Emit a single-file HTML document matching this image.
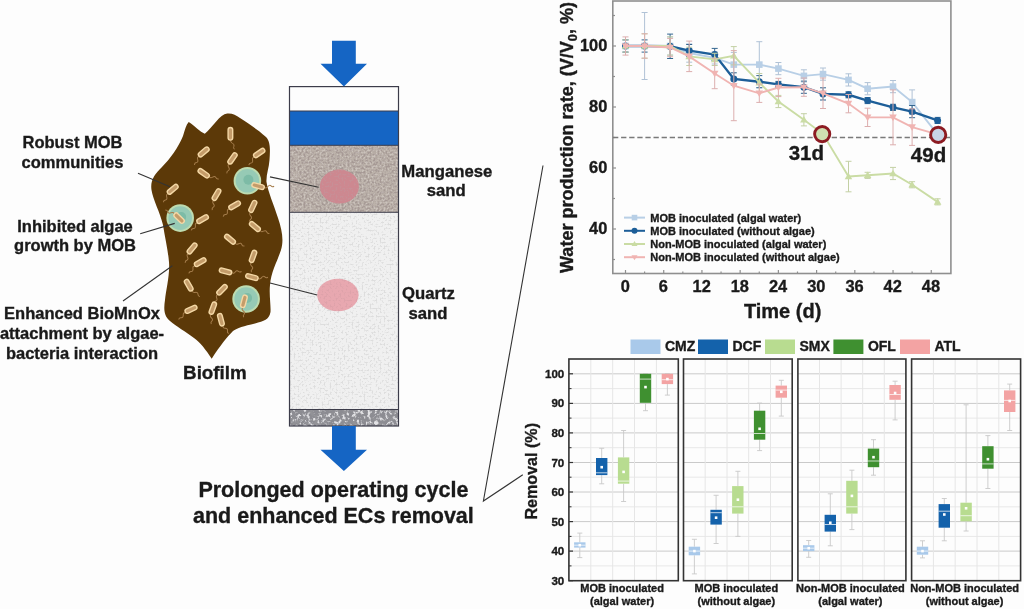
<!DOCTYPE html>
<html><head><meta charset="utf-8"><style>
html,body{margin:0;padding:0;background:#fff;width:1024px;height:609px;overflow:hidden}
svg{display:block;filter:blur(0.45px)}
</style></head><body>
<svg width="1024" height="609" viewBox="0 0 1024 609">
<rect width="1024" height="609" fill="#fdfdfd"/>
<path d="M188.7,122.1 C195,126 200,132 204.8,133.8 C212,128 220,114 227.2,113.5 C232,113 236,115 240,118 C248,123 258,130 266,137 C271,142 270,152 269.5,160 C269,168 266,175 266.5,182 C268,192 274,205 278,218 C282,230 284,240 281,250 C277,262 271,272 270,285 C269,295 271,305 270.5,312 C269,320 264,321 255,323.5 C244,326 237,328 233,331 C227,337 220,346 211.7,358.7 C206,350 200,342 194,338 C186,332 176,326 170,321 C163,315 164,307 165,300 C166,290 170,275 169,262 C168,250 165,238 163,225 C160,212 153,200 151.5,190 C150,180 155,174 162,167 C170,159 178,148 183,136 C185,130 186,125 188.7,122.1 Z" fill="#5c3908"/>
<circle cx="247.4" cy="180.8" r="13.8" fill="#bedcb0"/>
<circle cx="247.4" cy="180.8" r="11.8" fill="#96cab5"/>
<circle cx="248.4" cy="179.8" r="5" fill="#7dbba6"/>
<circle cx="180.2" cy="218.1" r="13.8" fill="#bedcb0"/>
<circle cx="180.2" cy="218.1" r="11.8" fill="#96cab5"/>
<circle cx="181.2" cy="217.1" r="5" fill="#7dbba6"/>
<circle cx="246.1" cy="299" r="13.8" fill="#bedcb0"/>
<circle cx="246.1" cy="299" r="11.8" fill="#96cab5"/>
<circle cx="247.1" cy="298" r="5" fill="#7dbba6"/>
<g transform="translate(230.4,133.8) rotate(270)"><path d="M-6.5,0.5 q-2,-1 -3,1.5 q-1,2.5 -3,1.5 q-1.5,-1 -3,0.5" fill="none" stroke="#a57d4c" stroke-width="1"/><rect x="-6.3" y="-2.3" width="12.6" height="4.6" rx="2.3" fill="#c49c6a" stroke="#f4d8a6" stroke-width="1.4"/></g>
<g transform="translate(203.7,151.9) rotate(320)"><path d="M-6.5,0.5 q-2,-1 -3,1.5 q-1,2.5 -3,1.5 q-1.5,-1 -3,0.5" fill="none" stroke="#a57d4c" stroke-width="1"/><rect x="-6.3" y="-2.3" width="12.6" height="4.6" rx="2.3" fill="#c49c6a" stroke="#f4d8a6" stroke-width="1.4"/></g>
<g transform="translate(232.5,158.4) rotate(305)"><path d="M-6.5,0.5 q-2,-1 -3,1.5 q-1,2.5 -3,1.5 q-1.5,-1 -3,0.5" fill="none" stroke="#a57d4c" stroke-width="1"/><rect x="-6.3" y="-2.3" width="12.6" height="4.6" rx="2.3" fill="#c49c6a" stroke="#f4d8a6" stroke-width="1.4"/></g>
<g transform="translate(259.2,153) rotate(325)"><path d="M-6.5,0.5 q-2,-1 -3,1.5 q-1,2.5 -3,1.5 q-1.5,-1 -3,0.5" fill="none" stroke="#a57d4c" stroke-width="1"/><rect x="-6.3" y="-2.3" width="12.6" height="4.6" rx="2.3" fill="#c49c6a" stroke="#f4d8a6" stroke-width="1.4"/></g>
<g transform="translate(203.7,173.3) rotate(215)"><path d="M-6.5,0.5 q-2,-1 -3,1.5 q-1,2.5 -3,1.5 q-1.5,-1 -3,0.5" fill="none" stroke="#a57d4c" stroke-width="1"/><rect x="-6.3" y="-2.3" width="12.6" height="4.6" rx="2.3" fill="#c49c6a" stroke="#f4d8a6" stroke-width="1.4"/></g>
<g transform="translate(172.7,189.3) rotate(320)"><path d="M-6.5,0.5 q-2,-1 -3,1.5 q-1,2.5 -3,1.5 q-1.5,-1 -3,0.5" fill="none" stroke="#a57d4c" stroke-width="1"/><rect x="-6.3" y="-2.3" width="12.6" height="4.6" rx="2.3" fill="#c49c6a" stroke="#f4d8a6" stroke-width="1.4"/></g>
<g transform="translate(216.5,194.6) rotate(300)"><path d="M-6.5,0.5 q-2,-1 -3,1.5 q-1,2.5 -3,1.5 q-1.5,-1 -3,0.5" fill="none" stroke="#a57d4c" stroke-width="1"/><rect x="-6.3" y="-2.3" width="12.6" height="4.6" rx="2.3" fill="#c49c6a" stroke="#f4d8a6" stroke-width="1.4"/></g>
<g transform="translate(234.6,205.3) rotate(330)"><path d="M-6.5,0.5 q-2,-1 -3,1.5 q-1,2.5 -3,1.5 q-1.5,-1 -3,0.5" fill="none" stroke="#a57d4c" stroke-width="1"/><rect x="-6.3" y="-2.3" width="12.6" height="4.6" rx="2.3" fill="#c49c6a" stroke="#f4d8a6" stroke-width="1.4"/></g>
<g transform="translate(252.8,206.4) rotate(295)"><path d="M-6.5,0.5 q-2,-1 -3,1.5 q-1,2.5 -3,1.5 q-1.5,-1 -3,0.5" fill="none" stroke="#a57d4c" stroke-width="1"/><rect x="-6.3" y="-2.3" width="12.6" height="4.6" rx="2.3" fill="#c49c6a" stroke="#f4d8a6" stroke-width="1.4"/></g>
<g transform="translate(202.6,219.2) rotate(330)"><path d="M-6.5,0.5 q-2,-1 -3,1.5 q-1,2.5 -3,1.5 q-1.5,-1 -3,0.5" fill="none" stroke="#a57d4c" stroke-width="1"/><rect x="-6.3" y="-2.3" width="12.6" height="4.6" rx="2.3" fill="#c49c6a" stroke="#f4d8a6" stroke-width="1.4"/></g>
<g transform="translate(258.1,186.1) rotate(195)"><path d="M-6.5,0.5 q-2,-1 -3,1.5 q-1,2.5 -3,1.5 q-1.5,-1 -3,0.5" fill="none" stroke="#a57d4c" stroke-width="1"/><rect x="-6.3" y="-2.3" width="12.6" height="4.6" rx="2.3" fill="#c49c6a" stroke="#f4d8a6" stroke-width="1.4"/></g>
<g transform="translate(179.1,218.1) rotate(405)"><path d="M-6.5,0.5 q-2,-1 -3,1.5 q-1,2.5 -3,1.5 q-1.5,-1 -3,0.5" fill="none" stroke="#a57d4c" stroke-width="1"/><rect x="-6.3" y="-2.3" width="12.6" height="4.6" rx="2.3" fill="#c49c6a" stroke="#f4d8a6" stroke-width="1.4"/></g>
<g transform="translate(254.9,226.6) rotate(220)"><path d="M-6.5,0.5 q-2,-1 -3,1.5 q-1,2.5 -3,1.5 q-1.5,-1 -3,0.5" fill="none" stroke="#a57d4c" stroke-width="1"/><rect x="-6.3" y="-2.3" width="12.6" height="4.6" rx="2.3" fill="#c49c6a" stroke="#f4d8a6" stroke-width="1.4"/></g>
<g transform="translate(230,239.2) rotate(220)"><path d="M-6.5,0.5 q-2,-1 -3,1.5 q-1,2.5 -3,1.5 q-1.5,-1 -3,0.5" fill="none" stroke="#a57d4c" stroke-width="1"/><rect x="-6.3" y="-2.3" width="12.6" height="4.6" rx="2.3" fill="#c49c6a" stroke="#f4d8a6" stroke-width="1.4"/></g>
<g transform="translate(192.1,248.4) rotate(310)"><path d="M-6.5,0.5 q-2,-1 -3,1.5 q-1,2.5 -3,1.5 q-1.5,-1 -3,0.5" fill="none" stroke="#a57d4c" stroke-width="1"/><rect x="-6.3" y="-2.3" width="12.6" height="4.6" rx="2.3" fill="#c49c6a" stroke="#f4d8a6" stroke-width="1.4"/></g>
<g transform="translate(200.2,262.2) rotate(330)"><path d="M-6.5,0.5 q-2,-1 -3,1.5 q-1,2.5 -3,1.5 q-1.5,-1 -3,0.5" fill="none" stroke="#a57d4c" stroke-width="1"/><rect x="-6.3" y="-2.3" width="12.6" height="4.6" rx="2.3" fill="#c49c6a" stroke="#f4d8a6" stroke-width="1.4"/></g>
<g transform="translate(253,256.4) rotate(290)"><path d="M-6.5,0.5 q-2,-1 -3,1.5 q-1,2.5 -3,1.5 q-1.5,-1 -3,0.5" fill="none" stroke="#a57d4c" stroke-width="1"/><rect x="-6.3" y="-2.3" width="12.6" height="4.6" rx="2.3" fill="#c49c6a" stroke="#f4d8a6" stroke-width="1.4"/></g>
<g transform="translate(225.5,271.4) rotate(195)"><path d="M-6.5,0.5 q-2,-1 -3,1.5 q-1,2.5 -3,1.5 q-1.5,-1 -3,0.5" fill="none" stroke="#a57d4c" stroke-width="1"/><rect x="-6.3" y="-2.3" width="12.6" height="4.6" rx="2.3" fill="#c49c6a" stroke="#f4d8a6" stroke-width="1.4"/></g>
<g transform="translate(251.9,277.1) rotate(195)"><path d="M-6.5,0.5 q-2,-1 -3,1.5 q-1,2.5 -3,1.5 q-1.5,-1 -3,0.5" fill="none" stroke="#a57d4c" stroke-width="1"/><rect x="-6.3" y="-2.3" width="12.6" height="4.6" rx="2.3" fill="#c49c6a" stroke="#f4d8a6" stroke-width="1.4"/></g>
<g transform="translate(188.7,285.2) rotate(240)"><path d="M-6.5,0.5 q-2,-1 -3,1.5 q-1,2.5 -3,1.5 q-1.5,-1 -3,0.5" fill="none" stroke="#a57d4c" stroke-width="1"/><rect x="-6.3" y="-2.3" width="12.6" height="4.6" rx="2.3" fill="#c49c6a" stroke="#f4d8a6" stroke-width="1.4"/></g>
<g transform="translate(222,289.8) rotate(315)"><path d="M-6.5,0.5 q-2,-1 -3,1.5 q-1,2.5 -3,1.5 q-1.5,-1 -3,0.5" fill="none" stroke="#a57d4c" stroke-width="1"/><rect x="-6.3" y="-2.3" width="12.6" height="4.6" rx="2.3" fill="#c49c6a" stroke="#f4d8a6" stroke-width="1.4"/></g>
<g transform="translate(191,309.3) rotate(335)"><path d="M-6.5,0.5 q-2,-1 -3,1.5 q-1,2.5 -3,1.5 q-1.5,-1 -3,0.5" fill="none" stroke="#a57d4c" stroke-width="1"/><rect x="-6.3" y="-2.3" width="12.6" height="4.6" rx="2.3" fill="#c49c6a" stroke="#f4d8a6" stroke-width="1.4"/></g>
<g transform="translate(212.8,308.2) rotate(290)"><path d="M-6.5,0.5 q-2,-1 -3,1.5 q-1,2.5 -3,1.5 q-1.5,-1 -3,0.5" fill="none" stroke="#a57d4c" stroke-width="1"/><rect x="-6.3" y="-2.3" width="12.6" height="4.6" rx="2.3" fill="#c49c6a" stroke="#f4d8a6" stroke-width="1.4"/></g>
<g transform="translate(220.9,319.7) rotate(255)"><path d="M-6.5,0.5 q-2,-1 -3,1.5 q-1,2.5 -3,1.5 q-1.5,-1 -3,0.5" fill="none" stroke="#a57d4c" stroke-width="1"/><rect x="-6.3" y="-2.3" width="12.6" height="4.6" rx="2.3" fill="#c49c6a" stroke="#f4d8a6" stroke-width="1.4"/></g>
<g transform="translate(243.9,301.3) rotate(285)"><path d="M-6.5,0.5 q-2,-1 -3,1.5 q-1,2.5 -3,1.5 q-1.5,-1 -3,0.5" fill="none" stroke="#a57d4c" stroke-width="1"/><rect x="-6.3" y="-2.3" width="12.6" height="4.6" rx="2.3" fill="#c49c6a" stroke="#f4d8a6" stroke-width="1.4"/></g>
<text x="72.5" y="148" font-family="Liberation Sans, sans-serif" font-size="16.5" font-weight="bold" fill="#1a1a1a" stroke="#1a1a1a" stroke-width="0.35" text-anchor="middle" >Robust MOB</text>
<text x="72.5" y="167.6" font-family="Liberation Sans, sans-serif" font-size="16.5" font-weight="bold" fill="#1a1a1a" stroke="#1a1a1a" stroke-width="0.35" text-anchor="middle" >communities</text>
<text x="75" y="231.5" font-family="Liberation Sans, sans-serif" font-size="16.5" font-weight="bold" fill="#1a1a1a" stroke="#1a1a1a" stroke-width="0.35" text-anchor="middle" >Inhibited algae</text>
<text x="75" y="251" font-family="Liberation Sans, sans-serif" font-size="16.5" font-weight="bold" fill="#1a1a1a" stroke="#1a1a1a" stroke-width="0.35" text-anchor="middle" >growth by MOB</text>
<text x="82" y="319.3" font-family="Liberation Sans, sans-serif" font-size="16.5" font-weight="bold" fill="#1a1a1a" stroke="#1a1a1a" stroke-width="0.35" text-anchor="middle" >Enhanced BioMnOx</text>
<text x="82" y="339.3" font-family="Liberation Sans, sans-serif" font-size="16.5" font-weight="bold" fill="#1a1a1a" stroke="#1a1a1a" stroke-width="0.35" text-anchor="middle" >attachment by algae-</text>
<text x="82" y="358.9" font-family="Liberation Sans, sans-serif" font-size="16.5" font-weight="bold" fill="#1a1a1a" stroke="#1a1a1a" stroke-width="0.35" text-anchor="middle" >bacteria interaction</text>
<text x="214.9" y="379" font-family="Liberation Sans, sans-serif" font-size="18.8" font-weight="bold" fill="#1a1a1a" stroke="#1a1a1a" stroke-width="0.35" text-anchor="middle" >Biofilm</text>
<filter id="spk1" x="0" y="0" width="1" height="1"><feTurbulence type="fractalNoise" baseFrequency="0.5" numOctaves="3" seed="5"/><feColorMatrix type="matrix" values="0 0 0 0 0.38  0 0 0 0 0.32  0 0 0 0 0.30  6 0 0 0 -2.7"/></filter>
<filter id="spk2" x="0" y="0" width="1" height="1"><feTurbulence type="fractalNoise" baseFrequency="0.5" numOctaves="3" seed="9"/><feColorMatrix type="matrix" values="0 0 0 0 0.95  0 0 0 0 0.92  0 0 0 0 0.9  6 0 0 0 -3.0"/></filter>
<filter id="spk3" x="0" y="0" width="1" height="1"><feTurbulence type="fractalNoise" baseFrequency="0.5" numOctaves="3" seed="11"/><feColorMatrix type="matrix" values="0 0 0 0 0.6  0 0 0 0 0.6  0 0 0 0 0.6  5 0 0 0 -2.5"/></filter>
<rect x="289.5" y="145.3" width="109" height="67" fill="#bcb2aa"/>
<rect x="289.5" y="145.3" width="109" height="67" fill="#000" filter="url(#spk1)"/>
<rect x="289.5" y="145.3" width="109" height="67" fill="#000" filter="url(#spk2)" opacity="0.25"/>
<rect x="289.5" y="212.3" width="109" height="197.2" fill="#f0f0f0"/>
<rect x="289.5" y="212.3" width="109" height="197.2" fill="#000" filter="url(#spk3)" opacity="0.5"/>
<rect x="289.5" y="409.5" width="109" height="16.5" fill="#8c8c92"/>
<filter id="spk5" x="0" y="0" width="1" height="1"><feTurbulence type="fractalNoise" baseFrequency="0.28" numOctaves="3" seed="21"/><feColorMatrix type="matrix" values="0 0 0 0 0.3  0 0 0 0 0.3  0 0 0 0 0.32  5 0 0 0 -2.4"/></filter>
<filter id="spk6" x="0" y="0" width="1" height="1"><feTurbulence type="fractalNoise" baseFrequency="0.28" numOctaves="3" seed="33"/><feColorMatrix type="matrix" values="0 0 0 0 0.93  0 0 0 0 0.93  0 0 0 0 0.95  5 0 0 0 -2.5"/></filter>
<rect x="289.5" y="409.5" width="109" height="16.5" fill="#000" filter="url(#spk5)" opacity="0.8"/>
<rect x="289.5" y="409.5" width="109" height="16.5" fill="#000" filter="url(#spk6)" opacity="0.8"/>
<rect x="289.5" y="111" width="109" height="34.3" fill="#1565c4"/>
<filter id="spk4" x="0" y="0" width="1" height="1"><feTurbulence type="fractalNoise" baseFrequency="0.5" numOctaves="3" seed="3"/><feColorMatrix type="matrix" values="0 0 0 0 0.55  0 0 0 0 0.3  0 0 0 0 0.33  6 0 0 0 -3.0"/><feComposite in2="SourceAlpha" operator="in"/></filter>
<ellipse cx="339.4" cy="186.6" rx="19.5" ry="17" fill="#cd8890"/>
<ellipse cx="339.4" cy="186.6" rx="19.5" ry="17" fill="#000" filter="url(#spk4)" opacity="0.6"/>
<ellipse cx="337.9" cy="295" rx="20.7" ry="16.2" fill="#e8a8b0"/>
<ellipse cx="337.9" cy="295" rx="20.7" ry="16.2" fill="#000" filter="url(#spk4)" opacity="0.25"/>
<line x1="289.5" y1="111" x2="398.5" y2="111" stroke="#3c3c4a" stroke-width="1"/>
<line x1="289.5" y1="145.3" x2="398.5" y2="145.3" stroke="#3c3c4a" stroke-width="1"/>
<line x1="289.5" y1="212.3" x2="398.5" y2="212.3" stroke="#3c3c4a" stroke-width="1"/>
<line x1="289.5" y1="409.5" x2="398.5" y2="409.5" stroke="#3c3c4a" stroke-width="1"/>
<rect x="289.5" y="86.6" width="109" height="339.4" fill="none" stroke="#3c3c4a" stroke-width="1.2"/>
<line x1="138" y1="173.3" x2="170" y2="186.7" stroke="#333" stroke-width="1.1"/>
<line x1="140.2" y1="233.8" x2="174.7" y2="223.4" stroke="#333" stroke-width="1.1"/>
<line x1="123" y1="301" x2="172.4" y2="265.7" stroke="#333" stroke-width="1.1"/>
<line x1="270" y1="176.9" x2="318.7" y2="187.2" stroke="#333" stroke-width="1.1"/>
<line x1="270" y1="283" x2="317.2" y2="295" stroke="#333" stroke-width="1.1"/>
<path d="M332,40.7 H355.8 V63.7 H367 L343.9,86.6 L320.5,63.7 H332 Z" fill="#1565c4"/>
<path d="M332,426 H355.8 V449.8 H367 L343.9,471 L320.5,449.8 H332 Z" fill="#1565c4"/>
<text x="446.8" y="176.6" font-family="Liberation Sans, sans-serif" font-size="16.7" font-weight="bold" fill="#1a1a1a" stroke="#1a1a1a" stroke-width="0.35" text-anchor="middle" >Manganese</text>
<text x="446.3" y="196.4" font-family="Liberation Sans, sans-serif" font-size="16.7" font-weight="bold" fill="#1a1a1a" stroke="#1a1a1a" stroke-width="0.35" text-anchor="middle" >sand</text>
<text x="428.4" y="298.7" font-family="Liberation Sans, sans-serif" font-size="16.7" font-weight="bold" fill="#1a1a1a" stroke="#1a1a1a" stroke-width="0.35" text-anchor="middle" >Quartz</text>
<text x="428" y="318.8" font-family="Liberation Sans, sans-serif" font-size="16.7" font-weight="bold" fill="#1a1a1a" stroke="#1a1a1a" stroke-width="0.35" text-anchor="middle" >sand</text>
<text x="333.4" y="497.4" font-family="Liberation Sans, sans-serif" font-size="21.5" font-weight="bold" fill="#1a1a1a" stroke="#1a1a1a" stroke-width="0.35" text-anchor="middle" >Prolonged operating cycle</text>
<text x="333.4" y="522.5" font-family="Liberation Sans, sans-serif" font-size="21.5" font-weight="bold" fill="#1a1a1a" stroke="#1a1a1a" stroke-width="0.35" text-anchor="middle" >and enhanced ECs removal</text>
<polyline points="543,165.5 483.4,501 522.8,474.8" fill="none" stroke="#333" stroke-width="1.1"/>
<rect x="612.8" y="1" width="338.1" height="272.5" fill="none" stroke="#8f8f8f" stroke-width="1.6"/>
<line x1="612.8" y1="259.5" x2="615" y2="259.5" stroke="#8f8f8f" stroke-width="1.2"/>
<line x1="612.8" y1="229.0" x2="616" y2="229.0" stroke="#8f8f8f" stroke-width="1.2"/>
<line x1="612.8" y1="198.5" x2="615" y2="198.5" stroke="#8f8f8f" stroke-width="1.2"/>
<line x1="612.8" y1="168.0" x2="616" y2="168.0" stroke="#8f8f8f" stroke-width="1.2"/>
<line x1="612.8" y1="137.5" x2="615" y2="137.5" stroke="#8f8f8f" stroke-width="1.2"/>
<line x1="612.8" y1="107.0" x2="616" y2="107.0" stroke="#8f8f8f" stroke-width="1.2"/>
<line x1="612.8" y1="76.5" x2="615" y2="76.5" stroke="#8f8f8f" stroke-width="1.2"/>
<line x1="612.8" y1="46.0" x2="616" y2="46.0" stroke="#8f8f8f" stroke-width="1.2"/>
<line x1="612.8" y1="15.5" x2="615" y2="15.5" stroke="#8f8f8f" stroke-width="1.2"/>
<line x1="625.5" y1="273.5" x2="625.5" y2="270" stroke="#8f8f8f" stroke-width="1.2"/>
<line x1="644.61" y1="273.5" x2="644.61" y2="271.5" stroke="#8f8f8f" stroke-width="1.2"/>
<line x1="663.72" y1="273.5" x2="663.72" y2="270" stroke="#8f8f8f" stroke-width="1.2"/>
<line x1="682.83" y1="273.5" x2="682.83" y2="271.5" stroke="#8f8f8f" stroke-width="1.2"/>
<line x1="701.94" y1="273.5" x2="701.94" y2="270" stroke="#8f8f8f" stroke-width="1.2"/>
<line x1="721.05" y1="273.5" x2="721.05" y2="271.5" stroke="#8f8f8f" stroke-width="1.2"/>
<line x1="740.16" y1="273.5" x2="740.16" y2="270" stroke="#8f8f8f" stroke-width="1.2"/>
<line x1="759.27" y1="273.5" x2="759.27" y2="271.5" stroke="#8f8f8f" stroke-width="1.2"/>
<line x1="778.38" y1="273.5" x2="778.38" y2="270" stroke="#8f8f8f" stroke-width="1.2"/>
<line x1="797.49" y1="273.5" x2="797.49" y2="271.5" stroke="#8f8f8f" stroke-width="1.2"/>
<line x1="816.6" y1="273.5" x2="816.6" y2="270" stroke="#8f8f8f" stroke-width="1.2"/>
<line x1="835.71" y1="273.5" x2="835.71" y2="271.5" stroke="#8f8f8f" stroke-width="1.2"/>
<line x1="854.8199999999999" y1="273.5" x2="854.8199999999999" y2="270" stroke="#8f8f8f" stroke-width="1.2"/>
<line x1="873.9300000000001" y1="273.5" x2="873.9300000000001" y2="271.5" stroke="#8f8f8f" stroke-width="1.2"/>
<line x1="893.04" y1="273.5" x2="893.04" y2="270" stroke="#8f8f8f" stroke-width="1.2"/>
<line x1="912.15" y1="273.5" x2="912.15" y2="271.5" stroke="#8f8f8f" stroke-width="1.2"/>
<line x1="931.26" y1="273.5" x2="931.26" y2="270" stroke="#8f8f8f" stroke-width="1.2"/>
<text x="607.3" y="234.0" font-family="Liberation Sans, sans-serif" font-size="16.4" font-weight="bold" fill="#1a1a1a" stroke="#1a1a1a" stroke-width="0.35" text-anchor="end" >40</text>
<text x="607.3" y="173.0" font-family="Liberation Sans, sans-serif" font-size="16.4" font-weight="bold" fill="#1a1a1a" stroke="#1a1a1a" stroke-width="0.35" text-anchor="end" >60</text>
<text x="607.3" y="112.0" font-family="Liberation Sans, sans-serif" font-size="16.4" font-weight="bold" fill="#1a1a1a" stroke="#1a1a1a" stroke-width="0.35" text-anchor="end" >80</text>
<text x="607.3" y="51.0" font-family="Liberation Sans, sans-serif" font-size="16.4" font-weight="bold" fill="#1a1a1a" stroke="#1a1a1a" stroke-width="0.35" text-anchor="end" >100</text>
<text x="625.2" y="292.1" font-family="Liberation Sans, sans-serif" font-size="16.4" font-weight="bold" fill="#1a1a1a" stroke="#1a1a1a" stroke-width="0.35" text-anchor="middle" >0</text>
<text x="663.4200000000001" y="292.1" font-family="Liberation Sans, sans-serif" font-size="16.4" font-weight="bold" fill="#1a1a1a" stroke="#1a1a1a" stroke-width="0.35" text-anchor="middle" >6</text>
<text x="701.6400000000001" y="292.1" font-family="Liberation Sans, sans-serif" font-size="16.4" font-weight="bold" fill="#1a1a1a" stroke="#1a1a1a" stroke-width="0.35" text-anchor="middle" >12</text>
<text x="739.86" y="292.1" font-family="Liberation Sans, sans-serif" font-size="16.4" font-weight="bold" fill="#1a1a1a" stroke="#1a1a1a" stroke-width="0.35" text-anchor="middle" >18</text>
<text x="778.08" y="292.1" font-family="Liberation Sans, sans-serif" font-size="16.4" font-weight="bold" fill="#1a1a1a" stroke="#1a1a1a" stroke-width="0.35" text-anchor="middle" >24</text>
<text x="816.3000000000001" y="292.1" font-family="Liberation Sans, sans-serif" font-size="16.4" font-weight="bold" fill="#1a1a1a" stroke="#1a1a1a" stroke-width="0.35" text-anchor="middle" >30</text>
<text x="854.52" y="292.1" font-family="Liberation Sans, sans-serif" font-size="16.4" font-weight="bold" fill="#1a1a1a" stroke="#1a1a1a" stroke-width="0.35" text-anchor="middle" >36</text>
<text x="892.74" y="292.1" font-family="Liberation Sans, sans-serif" font-size="16.4" font-weight="bold" fill="#1a1a1a" stroke="#1a1a1a" stroke-width="0.35" text-anchor="middle" >42</text>
<text x="930.96" y="292.1" font-family="Liberation Sans, sans-serif" font-size="16.4" font-weight="bold" fill="#1a1a1a" stroke="#1a1a1a" stroke-width="0.35" text-anchor="middle" >48</text>
<text x="782.6" y="317.5" font-family="Liberation Sans, sans-serif" font-size="20" font-weight="bold" fill="#1a1a1a" stroke="#1a1a1a" stroke-width="0.35" text-anchor="middle" >Time (d)</text>
<text transform="translate(572.6,273) rotate(-90)" font-family="Liberation Sans, sans-serif" font-size="17.5" font-weight="bold" fill="#1a1a1a" stroke="#1a1a1a" stroke-width="0.35" textLength="271" lengthAdjust="spacingAndGlyphs">Water production rate, (V/V<tspan font-size="12.5" dy="4">0</tspan><tspan dy="-4">, %)</tspan></text>
<line x1="613" y1="137.5" x2="950" y2="137.5" stroke="#7a7a7a" stroke-width="1.3" stroke-dasharray="5.3,2.8"/>
<path d="M625.5,39.9 V52.1 M622.5,39.9 h6 M622.5,52.1 h6" stroke="#b0c2d6" stroke-width="1" fill="none"/>
<path d="M644.6,12.5 V79.5 M641.6,12.5 h6 M641.6,79.5 h6" stroke="#b0c2d6" stroke-width="1" fill="none"/>
<path d="M670.1,36.9 V55.1 M667.1,36.9 h6 M667.1,55.1 h6" stroke="#b0c2d6" stroke-width="1" fill="none"/>
<path d="M689.2,43.9 V62.2 M686.2,43.9 h6 M686.2,62.2 h6" stroke="#b0c2d6" stroke-width="1" fill="none"/>
<path d="M714.7,51.8 V64.0 M711.7,51.8 h6 M711.7,64.0 h6" stroke="#b0c2d6" stroke-width="1" fill="none"/>
<path d="M733.8,52.4 V76.8 M730.8,52.4 h6 M730.8,76.8 h6" stroke="#b0c2d6" stroke-width="1" fill="none"/>
<path d="M759.3,41.7 V87.5 M756.3,41.7 h6 M756.3,87.5 h6" stroke="#b0c2d6" stroke-width="1" fill="none"/>
<path d="M778.4,62.5 V74.7 M775.4,62.5 h6 M775.4,74.7 h6" stroke="#b0c2d6" stroke-width="1" fill="none"/>
<path d="M803.9,69.8 V82.0 M800.9,69.8 h6 M800.9,82.0 h6" stroke="#b0c2d6" stroke-width="1" fill="none"/>
<path d="M823.0,68.0 V80.2 M820.0,68.0 h6 M820.0,80.2 h6" stroke="#b0c2d6" stroke-width="1" fill="none"/>
<path d="M848.5,73.8 V86.0 M845.5,73.8 h6 M845.5,86.0 h6" stroke="#b0c2d6" stroke-width="1" fill="none"/>
<path d="M867.6,82.6 V94.8 M864.6,82.6 h6 M864.6,94.8 h6" stroke="#b0c2d6" stroke-width="1" fill="none"/>
<path d="M893.0,80.5 V92.7 M890.0,80.5 h6 M890.0,92.7 h6" stroke="#b0c2d6" stroke-width="1" fill="none"/>
<path d="M912.1,89.9 V114.3 M909.1,89.9 h6 M909.1,114.3 h6" stroke="#b0c2d6" stroke-width="1" fill="none"/>
<path d="M937.6,131.4 V137.5 M934.6,131.4 h6 M934.6,137.5 h6" stroke="#b0c2d6" stroke-width="1" fill="none"/>
<polyline points="625.5,46.0 644.6,46.0 670.1,46.0 689.2,53.0 714.7,57.9 733.8,64.6 759.3,64.6 778.4,68.6 803.9,75.9 823.0,74.1 848.5,79.9 867.6,88.7 893.0,86.6 912.1,102.1 937.6,134.4" fill="none" stroke="#b8cfe6" stroke-width="1.9"/>
<rect x="622.2" y="42.7" width="6.6" height="6.6" fill="#b8cfe6"/>
<rect x="641.3" y="42.7" width="6.6" height="6.6" fill="#b8cfe6"/>
<rect x="666.8" y="42.7" width="6.6" height="6.6" fill="#b8cfe6"/>
<rect x="685.9" y="49.7" width="6.6" height="6.6" fill="#b8cfe6"/>
<rect x="711.4" y="54.6" width="6.6" height="6.6" fill="#b8cfe6"/>
<rect x="730.5" y="61.3" width="6.6" height="6.6" fill="#b8cfe6"/>
<rect x="756.0" y="61.3" width="6.6" height="6.6" fill="#b8cfe6"/>
<rect x="775.1" y="65.3" width="6.6" height="6.6" fill="#b8cfe6"/>
<rect x="800.6" y="72.6" width="6.6" height="6.6" fill="#b8cfe6"/>
<rect x="819.7" y="70.8" width="6.6" height="6.6" fill="#b8cfe6"/>
<rect x="845.2" y="76.6" width="6.6" height="6.6" fill="#b8cfe6"/>
<rect x="864.3" y="85.4" width="6.6" height="6.6" fill="#b8cfe6"/>
<rect x="889.7" y="83.3" width="6.6" height="6.6" fill="#b8cfe6"/>
<rect x="908.9" y="98.8" width="6.6" height="6.6" fill="#b8cfe6"/>
<rect x="934.3" y="131.1" width="6.6" height="6.6" fill="#b8cfe6"/>
<path d="M625.5,39.9 V52.1 M622.5,39.9 h6 M622.5,52.1 h6" stroke="#33658f" stroke-width="1" fill="none"/>
<path d="M644.6,39.9 V52.1 M641.6,39.9 h6 M641.6,52.1 h6" stroke="#33658f" stroke-width="1" fill="none"/>
<path d="M670.1,34.1 V58.5 M667.1,34.1 h6 M667.1,58.5 h6" stroke="#33658f" stroke-width="1" fill="none"/>
<path d="M689.2,44.5 V56.7 M686.2,44.5 h6 M686.2,56.7 h6" stroke="#33658f" stroke-width="1" fill="none"/>
<path d="M714.7,48.4 V60.6 M711.7,48.4 h6 M711.7,60.6 h6" stroke="#33658f" stroke-width="1" fill="none"/>
<path d="M733.8,72.8 V85.0 M730.8,72.8 h6 M730.8,85.0 h6" stroke="#33658f" stroke-width="1" fill="none"/>
<path d="M759.3,75.6 V87.8 M756.3,75.6 h6 M756.3,87.8 h6" stroke="#33658f" stroke-width="1" fill="none"/>
<path d="M778.4,81.4 V87.5 M775.4,81.4 h6 M775.4,87.5 h6" stroke="#33658f" stroke-width="1" fill="none"/>
<path d="M803.9,81.1 V93.3 M800.9,81.1 h6 M800.9,93.3 h6" stroke="#33658f" stroke-width="1" fill="none"/>
<path d="M823.0,87.8 V100.0 M820.0,87.8 h6 M820.0,100.0 h6" stroke="#33658f" stroke-width="1" fill="none"/>
<path d="M848.5,91.8 V97.8 M845.5,91.8 h6 M845.5,97.8 h6" stroke="#33658f" stroke-width="1" fill="none"/>
<path d="M867.6,97.5 V103.6 M864.6,97.5 h6 M864.6,103.6 h6" stroke="#33658f" stroke-width="1" fill="none"/>
<path d="M893.0,104.3 V110.4 M890.0,104.3 h6 M890.0,110.4 h6" stroke="#33658f" stroke-width="1" fill="none"/>
<path d="M912.1,105.5 V117.7 M909.1,105.5 h6 M909.1,117.7 h6" stroke="#33658f" stroke-width="1" fill="none"/>
<path d="M937.6,117.4 V123.5 M934.6,117.4 h6 M934.6,123.5 h6" stroke="#33658f" stroke-width="1" fill="none"/>
<polyline points="625.5,46.0 644.6,46.0 670.1,46.3 689.2,50.6 714.7,54.5 733.8,78.9 759.3,81.7 778.4,84.4 803.9,87.2 823.0,93.9 848.5,94.8 867.6,100.6 893.0,107.3 912.1,111.6 937.6,120.4" fill="none" stroke="#1d5e98" stroke-width="2.4"/>
<circle cx="625.5" cy="46.0" r="3.5" fill="#1d5e98"/>
<circle cx="644.6" cy="46.0" r="3.5" fill="#1d5e98"/>
<circle cx="670.1" cy="46.3" r="3.5" fill="#1d5e98"/>
<circle cx="689.2" cy="50.6" r="3.5" fill="#1d5e98"/>
<circle cx="714.7" cy="54.5" r="3.5" fill="#1d5e98"/>
<circle cx="733.8" cy="78.9" r="3.5" fill="#1d5e98"/>
<circle cx="759.3" cy="81.7" r="3.5" fill="#1d5e98"/>
<circle cx="778.4" cy="84.4" r="3.5" fill="#1d5e98"/>
<circle cx="803.9" cy="87.2" r="3.5" fill="#1d5e98"/>
<circle cx="823.0" cy="93.9" r="3.5" fill="#1d5e98"/>
<circle cx="848.5" cy="94.8" r="3.5" fill="#1d5e98"/>
<circle cx="867.6" cy="100.6" r="3.5" fill="#1d5e98"/>
<circle cx="893.0" cy="107.3" r="3.5" fill="#1d5e98"/>
<circle cx="912.1" cy="111.6" r="3.5" fill="#1d5e98"/>
<circle cx="937.6" cy="120.4" r="3.5" fill="#1d5e98"/>
<path d="M625.5,39.9 V52.1 M622.5,39.9 h6 M622.5,52.1 h6" stroke="#c3d0a4" stroke-width="1" fill="none"/>
<path d="M644.6,33.8 V58.2 M641.6,33.8 h6 M641.6,58.2 h6" stroke="#c3d0a4" stroke-width="1" fill="none"/>
<path d="M670.1,36.9 V55.1 M667.1,36.9 h6 M667.1,55.1 h6" stroke="#c3d0a4" stroke-width="1" fill="none"/>
<path d="M689.2,47.2 V65.5 M686.2,47.2 h6 M686.2,65.5 h6" stroke="#c3d0a4" stroke-width="1" fill="none"/>
<path d="M714.7,53.3 V65.5 M711.7,53.3 h6 M711.7,65.5 h6" stroke="#c3d0a4" stroke-width="1" fill="none"/>
<path d="M733.8,46.6 V64.9 M730.8,46.6 h6 M730.8,64.9 h6" stroke="#c3d0a4" stroke-width="1" fill="none"/>
<path d="M759.3,73.5 V91.8 M756.3,73.5 h6 M756.3,91.8 h6" stroke="#c3d0a4" stroke-width="1" fill="none"/>
<path d="M778.4,95.4 V107.6 M775.4,95.4 h6 M775.4,107.6 h6" stroke="#c3d0a4" stroke-width="1" fill="none"/>
<path d="M803.9,113.7 V125.9 M800.9,113.7 h6 M800.9,125.9 h6" stroke="#c3d0a4" stroke-width="1" fill="none"/>
<path d="M823.0,131.1 V137.2 M820.0,131.1 h6 M820.0,137.2 h6" stroke="#c3d0a4" stroke-width="1" fill="none"/>
<path d="M848.5,161.3 V191.8 M845.5,161.3 h6 M845.5,191.8 h6" stroke="#c3d0a4" stroke-width="1" fill="none"/>
<path d="M867.6,172.3 V178.4 M864.6,172.3 h6 M864.6,178.4 h6" stroke="#c3d0a4" stroke-width="1" fill="none"/>
<path d="M893.0,167.4 V179.6 M890.0,167.4 h6 M890.0,179.6 h6" stroke="#c3d0a4" stroke-width="1" fill="none"/>
<path d="M912.1,181.7 V187.8 M909.1,181.7 h6 M909.1,187.8 h6" stroke="#c3d0a4" stroke-width="1" fill="none"/>
<path d="M937.6,198.8 V204.9 M934.6,198.8 h6 M934.6,204.9 h6" stroke="#c3d0a4" stroke-width="1" fill="none"/>
<polyline points="625.5,46.0 644.6,46.0 670.1,46.0 689.2,56.4 714.7,59.4 733.8,55.8 759.3,82.6 778.4,101.5 803.9,119.8 823.0,134.1 848.5,176.5 867.6,175.3 893.0,173.5 912.1,184.8 937.6,201.9" fill="none" stroke="#cadca4" stroke-width="1.9"/>
<path d="M625.5,42.2 L629.3,48.8 L621.7,48.8 Z" fill="#cadca4"/>
<path d="M644.6,42.2 L648.4,48.8 L640.8,48.8 Z" fill="#cadca4"/>
<path d="M670.1,42.2 L673.9,48.8 L666.3,48.8 Z" fill="#cadca4"/>
<path d="M689.2,52.6 L693.0,59.2 L685.4,59.2 Z" fill="#cadca4"/>
<path d="M714.7,55.6 L718.5,62.2 L710.9,62.2 Z" fill="#cadca4"/>
<path d="M733.8,52.0 L737.6,58.6 L730.0,58.6 Z" fill="#cadca4"/>
<path d="M759.3,78.8 L763.1,85.4 L755.5,85.4 Z" fill="#cadca4"/>
<path d="M778.4,97.7 L782.2,104.3 L774.6,104.3 Z" fill="#cadca4"/>
<path d="M803.9,116.0 L807.7,122.6 L800.1,122.6 Z" fill="#cadca4"/>
<path d="M823.0,130.3 L826.8,136.9 L819.2,136.9 Z" fill="#cadca4"/>
<path d="M848.5,172.7 L852.2,179.3 L844.7,179.3 Z" fill="#cadca4"/>
<path d="M867.6,171.5 L871.4,178.1 L863.8,178.1 Z" fill="#cadca4"/>
<path d="M893.0,169.7 L896.8,176.3 L889.2,176.3 Z" fill="#cadca4"/>
<path d="M912.1,181.0 L915.9,187.6 L908.4,187.6 Z" fill="#cadca4"/>
<path d="M937.6,198.1 L941.4,204.7 L933.8,204.7 Z" fill="#cadca4"/>
<path d="M625.5,36.9 V55.1 M622.5,36.9 h6 M622.5,55.1 h6" stroke="#dcaeae" stroke-width="1" fill="none"/>
<path d="M644.6,33.8 V58.2 M641.6,33.8 h6 M641.6,58.2 h6" stroke="#dcaeae" stroke-width="1" fill="none"/>
<path d="M670.1,38.4 V56.7 M667.1,38.4 h6 M667.1,56.7 h6" stroke="#dcaeae" stroke-width="1" fill="none"/>
<path d="M689.2,41.1 V71.6 M686.2,41.1 h6 M686.2,71.6 h6" stroke="#dcaeae" stroke-width="1" fill="none"/>
<path d="M714.7,58.2 V88.7 M711.7,58.2 h6 M711.7,88.7 h6" stroke="#dcaeae" stroke-width="1" fill="none"/>
<path d="M733.8,50.6 V120.7 M730.8,50.6 h6 M730.8,120.7 h6" stroke="#dcaeae" stroke-width="1" fill="none"/>
<path d="M759.3,84.1 V102.4 M756.3,84.1 h6 M756.3,102.4 h6" stroke="#dcaeae" stroke-width="1" fill="none"/>
<path d="M778.4,78.3 V96.6 M775.4,78.3 h6 M775.4,96.6 h6" stroke="#dcaeae" stroke-width="1" fill="none"/>
<path d="M803.9,78.0 V96.3 M800.9,78.0 h6 M800.9,96.3 h6" stroke="#dcaeae" stroke-width="1" fill="none"/>
<path d="M823.0,78.0 V108.5 M820.0,78.0 h6 M820.0,108.5 h6" stroke="#dcaeae" stroke-width="1" fill="none"/>
<path d="M848.5,94.5 V112.8 M845.5,94.5 h6 M845.5,112.8 h6" stroke="#dcaeae" stroke-width="1" fill="none"/>
<path d="M867.6,108.2 V126.5 M864.6,108.2 h6 M864.6,126.5 h6" stroke="#dcaeae" stroke-width="1" fill="none"/>
<path d="M893.0,89.9 V144.8 M890.0,89.9 h6 M890.0,144.8 h6" stroke="#dcaeae" stroke-width="1" fill="none"/>
<path d="M912.1,108.8 V145.4 M909.1,108.8 h6 M909.1,145.4 h6" stroke="#dcaeae" stroke-width="1" fill="none"/>
<path d="M937.6,131.4 V137.5 M934.6,131.4 h6 M934.6,137.5 h6" stroke="#dcaeae" stroke-width="1" fill="none"/>
<polyline points="625.5,46.0 644.6,46.0 670.1,47.5 689.2,56.4 714.7,73.5 733.8,85.7 759.3,93.3 778.4,87.5 803.9,87.2 823.0,93.3 848.5,103.6 867.6,117.4 893.0,117.4 912.1,127.1 937.6,134.4" fill="none" stroke="#f0b4b2" stroke-width="1.9"/>
<path d="M625.5,49.8 L629.3,43.2 L621.7,43.2 Z" fill="#f0b4b2"/>
<path d="M644.6,49.8 L648.4,43.2 L640.8,43.2 Z" fill="#f0b4b2"/>
<path d="M670.1,51.3 L673.9,44.7 L666.3,44.7 Z" fill="#f0b4b2"/>
<path d="M689.2,60.2 L693.0,53.6 L685.4,53.6 Z" fill="#f0b4b2"/>
<path d="M714.7,77.2 L718.5,70.7 L710.9,70.7 Z" fill="#f0b4b2"/>
<path d="M733.8,89.5 L737.6,82.9 L730.0,82.9 Z" fill="#f0b4b2"/>
<path d="M759.3,97.1 L763.1,90.5 L755.5,90.5 Z" fill="#f0b4b2"/>
<path d="M778.4,91.3 L782.2,84.7 L774.6,84.7 Z" fill="#f0b4b2"/>
<path d="M803.9,91.0 L807.7,84.4 L800.1,84.4 Z" fill="#f0b4b2"/>
<path d="M823.0,97.1 L826.8,90.5 L819.2,90.5 Z" fill="#f0b4b2"/>
<path d="M848.5,107.4 L852.2,100.8 L844.7,100.8 Z" fill="#f0b4b2"/>
<path d="M867.6,121.2 L871.4,114.6 L863.8,114.6 Z" fill="#f0b4b2"/>
<path d="M893.0,121.2 L896.8,114.6 L889.2,114.6 Z" fill="#f0b4b2"/>
<path d="M912.1,130.9 L915.9,124.3 L908.4,124.3 Z" fill="#f0b4b2"/>
<path d="M937.6,138.2 L941.4,131.6 L933.8,131.6 Z" fill="#f0b4b2"/>
<circle cx="822.2" cy="134.1" r="7.6" fill="#cfe0b0" stroke="#8c1b22" stroke-width="2.9"/>
<circle cx="938.2" cy="134.9" r="7.6" fill="#c9d3e6" stroke="#8c1b22" stroke-width="2.9"/>
<text x="806.3" y="159.5" font-family="Liberation Sans, sans-serif" font-size="20.5" font-weight="bold" fill="#1a1a1a" stroke="#1a1a1a" stroke-width="0.35" text-anchor="middle" >31d</text>
<text x="928.5" y="162.2" font-family="Liberation Sans, sans-serif" font-size="20.5" font-weight="bold" fill="#1a1a1a" stroke="#1a1a1a" stroke-width="0.35" text-anchor="middle" >49d</text>
<line x1="624" y1="217.6" x2="645" y2="217.6" stroke="#b8cfe6" stroke-width="2"/>
<rect x="631.7" y="214.79999999999998" width="5.6" height="5.6" fill="#b8cfe6"/>
<line x1="624" y1="230.79999999999998" x2="645" y2="230.79999999999998" stroke="#1d5e98" stroke-width="2"/>
<circle cx="634.5" cy="230.79999999999998" r="3" fill="#1d5e98"/>
<line x1="624" y1="244.0" x2="645" y2="244.0" stroke="#cadca4" stroke-width="2"/>
<path d="M634.5,241.0 L637.5,246.0 L631.5,246.0 Z" fill="#cadca4"/>
<line x1="624" y1="257.2" x2="645" y2="257.2" stroke="#f0b4b2" stroke-width="2"/>
<path d="M634.5,260.2 L637.5,255.2 L631.5,255.2 Z" fill="#f0b4b2"/>
<text x="650.3" y="221.6" font-family="Liberation Sans, sans-serif" font-size="11" font-weight="bold" fill="#1a1a1a" stroke="#1a1a1a" stroke-width="0.35" text-anchor="start" >MOB inoculated (algal water)</text>
<text x="650.3" y="234.79999999999998" font-family="Liberation Sans, sans-serif" font-size="11" font-weight="bold" fill="#1a1a1a" stroke="#1a1a1a" stroke-width="0.35" text-anchor="start" >MOB inoculated (without algae)</text>
<text x="650.3" y="248.0" font-family="Liberation Sans, sans-serif" font-size="11" font-weight="bold" fill="#1a1a1a" stroke="#1a1a1a" stroke-width="0.35" text-anchor="start" >Non-MOB inoculated (algal water)</text>
<text x="650.3" y="261.2" font-family="Liberation Sans, sans-serif" font-size="11" font-weight="bold" fill="#1a1a1a" stroke="#1a1a1a" stroke-width="0.35" text-anchor="start" >Non-MOB inoculated (without algae)</text>
<rect x="630.5" y="339.5" width="30" height="14.5" fill="#a9c9ea"/>
<text x="665.0" y="351.2" font-family="Liberation Sans, sans-serif" font-size="14" font-weight="bold" fill="#1a1a1a" stroke="#1a1a1a" stroke-width="0.35" text-anchor="start" >CMZ</text>
<rect x="698" y="339.5" width="30" height="14.5" fill="#1462ab"/>
<text x="732.5" y="351.2" font-family="Liberation Sans, sans-serif" font-size="14" font-weight="bold" fill="#1a1a1a" stroke="#1a1a1a" stroke-width="0.35" text-anchor="start" >DCF</text>
<rect x="765" y="339.5" width="30" height="14.5" fill="#b8dc90"/>
<text x="799.5" y="351.2" font-family="Liberation Sans, sans-serif" font-size="14" font-weight="bold" fill="#1a1a1a" stroke="#1a1a1a" stroke-width="0.35" text-anchor="start" >SMX</text>
<rect x="833.4" y="339.5" width="30" height="14.5" fill="#3f9030"/>
<text x="867.9" y="351.2" font-family="Liberation Sans, sans-serif" font-size="14" font-weight="bold" fill="#1a1a1a" stroke="#1a1a1a" stroke-width="0.35" text-anchor="start" >OFL</text>
<rect x="900" y="339.5" width="30" height="14.5" fill="#f3a3a3"/>
<text x="934.5" y="351.2" font-family="Liberation Sans, sans-serif" font-size="14" font-weight="bold" fill="#1a1a1a" stroke="#1a1a1a" stroke-width="0.35" text-anchor="start" >ATL</text>
<line x1="568.9" y1="565.9" x2="678.3" y2="565.9" stroke="#e8e8e8" stroke-width="1"/>
<line x1="568.9" y1="551.1" x2="678.3" y2="551.1" stroke="#cacaca" stroke-width="1"/>
<line x1="568.9" y1="536.4" x2="678.3" y2="536.4" stroke="#e8e8e8" stroke-width="1"/>
<line x1="568.9" y1="521.6" x2="678.3" y2="521.6" stroke="#cacaca" stroke-width="1"/>
<line x1="568.9" y1="506.8" x2="678.3" y2="506.8" stroke="#e8e8e8" stroke-width="1"/>
<line x1="568.9" y1="492.0" x2="678.3" y2="492.0" stroke="#cacaca" stroke-width="1"/>
<line x1="568.9" y1="477.2" x2="678.3" y2="477.2" stroke="#e8e8e8" stroke-width="1"/>
<line x1="568.9" y1="462.5" x2="678.3" y2="462.5" stroke="#cacaca" stroke-width="1"/>
<line x1="568.9" y1="447.7" x2="678.3" y2="447.7" stroke="#e8e8e8" stroke-width="1"/>
<line x1="568.9" y1="432.9" x2="678.3" y2="432.9" stroke="#cacaca" stroke-width="1"/>
<line x1="568.9" y1="418.1" x2="678.3" y2="418.1" stroke="#e8e8e8" stroke-width="1"/>
<line x1="568.9" y1="403.4" x2="678.3" y2="403.4" stroke="#cacaca" stroke-width="1"/>
<line x1="568.9" y1="388.6" x2="678.3" y2="388.6" stroke="#e8e8e8" stroke-width="1"/>
<line x1="568.9" y1="373.8" x2="678.3" y2="373.8" stroke="#cacaca" stroke-width="1"/>
<line x1="590.8" y1="359" x2="590.8" y2="580.7" stroke="#e6e6e6" stroke-width="1"/>
<line x1="612.7" y1="359" x2="612.7" y2="580.7" stroke="#e6e6e6" stroke-width="1"/>
<line x1="634.5" y1="359" x2="634.5" y2="580.7" stroke="#e6e6e6" stroke-width="1"/>
<line x1="656.4" y1="359" x2="656.4" y2="580.7" stroke="#e6e6e6" stroke-width="1"/>
<path d="M579.8,533.1 V542.3 M579.8,547.6 V557.6 M577.3,533.1 h5 M577.3,557.6 h5" stroke="#c8c8c8" stroke-width="0.9" fill="none"/>
<rect x="574.1" y="542.3" width="11.4" height="5.3" fill="#a9c9ea"/>
<line x1="574.1" y1="545.2" x2="585.5" y2="545.2" stroke="#fff" stroke-width="0.9" opacity="0.8"/>
<rect x="578.5" y="543.9" width="2.6" height="2.6" fill="#fff"/>
<path d="M601.7,448.3 V458.0 M601.7,475.2 V483.8 M599.2,448.3 h5 M599.2,483.8 h5" stroke="#c8c8c8" stroke-width="0.9" fill="none"/>
<rect x="596.0" y="458.0" width="11.4" height="17.1" fill="#1462ab"/>
<line x1="596.0" y1="472.8" x2="607.4" y2="472.8" stroke="#fff" stroke-width="0.9" opacity="0.8"/>
<rect x="600.4" y="465.9" width="2.6" height="2.6" fill="#fff"/>
<path d="M623.6,430.5 V457.4 M623.6,483.8 V501.5 M621.1,430.5 h5 M621.1,501.5 h5" stroke="#c8c8c8" stroke-width="0.9" fill="none"/>
<rect x="617.9" y="457.4" width="11.4" height="26.3" fill="#b8dc90"/>
<line x1="617.9" y1="481.1" x2="629.3" y2="481.1" stroke="#fff" stroke-width="0.9" opacity="0.8"/>
<rect x="622.3" y="470.6" width="2.6" height="2.6" fill="#fff"/>
<path d="M645.5,373.8 V373.8 M645.5,402.8 V410.7 M643.0,373.8 h5 M643.0,410.7 h5" stroke="#c8c8c8" stroke-width="0.9" fill="none"/>
<rect x="639.8" y="373.8" width="11.4" height="29.0" fill="#3f9030"/>
<line x1="639.8" y1="379.1" x2="651.2" y2="379.1" stroke="#fff" stroke-width="0.9" opacity="0.8"/>
<rect x="644.2" y="385.8" width="2.6" height="2.6" fill="#fff"/>
<path d="M667.4,373.8 V373.8 M667.4,384.1 V395.1 M664.9,373.8 h5 M664.9,395.1 h5" stroke="#c8c8c8" stroke-width="0.9" fill="none"/>
<rect x="661.7" y="373.8" width="11.4" height="10.3" fill="#f3a3a3"/>
<line x1="661.7" y1="379.7" x2="673.1" y2="379.7" stroke="#fff" stroke-width="0.9" opacity="0.8"/>
<rect x="666.1" y="377.8" width="2.6" height="2.6" fill="#fff"/>
<rect x="568.9" y="359" width="109.4" height="221.7" fill="none" stroke="#333" stroke-width="1.6"/>
<line x1="683.5" y1="565.9" x2="792.2" y2="565.9" stroke="#e8e8e8" stroke-width="1"/>
<line x1="683.5" y1="551.1" x2="792.2" y2="551.1" stroke="#cacaca" stroke-width="1"/>
<line x1="683.5" y1="536.4" x2="792.2" y2="536.4" stroke="#e8e8e8" stroke-width="1"/>
<line x1="683.5" y1="521.6" x2="792.2" y2="521.6" stroke="#cacaca" stroke-width="1"/>
<line x1="683.5" y1="506.8" x2="792.2" y2="506.8" stroke="#e8e8e8" stroke-width="1"/>
<line x1="683.5" y1="492.0" x2="792.2" y2="492.0" stroke="#cacaca" stroke-width="1"/>
<line x1="683.5" y1="477.2" x2="792.2" y2="477.2" stroke="#e8e8e8" stroke-width="1"/>
<line x1="683.5" y1="462.5" x2="792.2" y2="462.5" stroke="#cacaca" stroke-width="1"/>
<line x1="683.5" y1="447.7" x2="792.2" y2="447.7" stroke="#e8e8e8" stroke-width="1"/>
<line x1="683.5" y1="432.9" x2="792.2" y2="432.9" stroke="#cacaca" stroke-width="1"/>
<line x1="683.5" y1="418.1" x2="792.2" y2="418.1" stroke="#e8e8e8" stroke-width="1"/>
<line x1="683.5" y1="403.4" x2="792.2" y2="403.4" stroke="#cacaca" stroke-width="1"/>
<line x1="683.5" y1="388.6" x2="792.2" y2="388.6" stroke="#e8e8e8" stroke-width="1"/>
<line x1="683.5" y1="373.8" x2="792.2" y2="373.8" stroke="#cacaca" stroke-width="1"/>
<line x1="705.2" y1="359" x2="705.2" y2="580.7" stroke="#e6e6e6" stroke-width="1"/>
<line x1="727.0" y1="359" x2="727.0" y2="580.7" stroke="#e6e6e6" stroke-width="1"/>
<line x1="748.7" y1="359" x2="748.7" y2="580.7" stroke="#e6e6e6" stroke-width="1"/>
<line x1="770.5" y1="359" x2="770.5" y2="580.7" stroke="#e6e6e6" stroke-width="1"/>
<path d="M694.4,539.3 V546.7 M694.4,555.3 V573.9 M691.9,539.3 h5 M691.9,573.9 h5" stroke="#c8c8c8" stroke-width="0.9" fill="none"/>
<rect x="688.7" y="546.7" width="11.4" height="8.6" fill="#a9c9ea"/>
<line x1="688.7" y1="551.1" x2="700.1" y2="551.1" stroke="#fff" stroke-width="0.9" opacity="0.8"/>
<rect x="693.1" y="549.8" width="2.6" height="2.6" fill="#fff"/>
<path d="M716.1,495.3 V509.8 M716.1,524.5 V543.5 M713.6,495.3 h5 M713.6,543.5 h5" stroke="#c8c8c8" stroke-width="0.9" fill="none"/>
<rect x="710.4" y="509.8" width="11.4" height="14.8" fill="#1462ab"/>
<line x1="710.4" y1="512.7" x2="721.8" y2="512.7" stroke="#fff" stroke-width="0.9" opacity="0.8"/>
<rect x="714.8" y="516.4" width="2.6" height="2.6" fill="#fff"/>
<path d="M737.9,471.3 V486.1 M737.9,513.6 V536.4 M735.4,471.3 h5 M735.4,536.4 h5" stroke="#c8c8c8" stroke-width="0.9" fill="none"/>
<rect x="732.1" y="486.1" width="11.4" height="27.5" fill="#b8dc90"/>
<line x1="732.1" y1="506.8" x2="743.6" y2="506.8" stroke="#fff" stroke-width="0.9" opacity="0.8"/>
<rect x="736.6" y="498.4" width="2.6" height="2.6" fill="#fff"/>
<path d="M759.6,403.1 V410.7 M759.6,439.7 V450.6 M757.1,403.1 h5 M757.1,450.6 h5" stroke="#c8c8c8" stroke-width="0.9" fill="none"/>
<rect x="753.9" y="410.7" width="11.4" height="29.0" fill="#3f9030"/>
<line x1="753.9" y1="433.5" x2="765.3" y2="433.5" stroke="#fff" stroke-width="0.9" opacity="0.8"/>
<rect x="758.3" y="427.5" width="2.6" height="2.6" fill="#fff"/>
<path d="M781.3,380.3 V385.6 M781.3,397.7 V416.1 M778.8,380.3 h5 M778.8,416.1 h5" stroke="#c8c8c8" stroke-width="0.9" fill="none"/>
<rect x="775.6" y="385.6" width="11.4" height="12.1" fill="#f3a3a3"/>
<line x1="775.6" y1="390.1" x2="787.0" y2="390.1" stroke="#fff" stroke-width="0.9" opacity="0.8"/>
<rect x="780.0" y="390.5" width="2.6" height="2.6" fill="#fff"/>
<rect x="683.5" y="359" width="108.7" height="221.7" fill="none" stroke="#333" stroke-width="1.6"/>
<line x1="797.9" y1="565.9" x2="905.9" y2="565.9" stroke="#e8e8e8" stroke-width="1"/>
<line x1="797.9" y1="551.1" x2="905.9" y2="551.1" stroke="#cacaca" stroke-width="1"/>
<line x1="797.9" y1="536.4" x2="905.9" y2="536.4" stroke="#e8e8e8" stroke-width="1"/>
<line x1="797.9" y1="521.6" x2="905.9" y2="521.6" stroke="#cacaca" stroke-width="1"/>
<line x1="797.9" y1="506.8" x2="905.9" y2="506.8" stroke="#e8e8e8" stroke-width="1"/>
<line x1="797.9" y1="492.0" x2="905.9" y2="492.0" stroke="#cacaca" stroke-width="1"/>
<line x1="797.9" y1="477.2" x2="905.9" y2="477.2" stroke="#e8e8e8" stroke-width="1"/>
<line x1="797.9" y1="462.5" x2="905.9" y2="462.5" stroke="#cacaca" stroke-width="1"/>
<line x1="797.9" y1="447.7" x2="905.9" y2="447.7" stroke="#e8e8e8" stroke-width="1"/>
<line x1="797.9" y1="432.9" x2="905.9" y2="432.9" stroke="#cacaca" stroke-width="1"/>
<line x1="797.9" y1="418.1" x2="905.9" y2="418.1" stroke="#e8e8e8" stroke-width="1"/>
<line x1="797.9" y1="403.4" x2="905.9" y2="403.4" stroke="#cacaca" stroke-width="1"/>
<line x1="797.9" y1="388.6" x2="905.9" y2="388.6" stroke="#e8e8e8" stroke-width="1"/>
<line x1="797.9" y1="373.8" x2="905.9" y2="373.8" stroke="#cacaca" stroke-width="1"/>
<line x1="819.5" y1="359" x2="819.5" y2="580.7" stroke="#e6e6e6" stroke-width="1"/>
<line x1="841.1" y1="359" x2="841.1" y2="580.7" stroke="#e6e6e6" stroke-width="1"/>
<line x1="862.7" y1="359" x2="862.7" y2="580.7" stroke="#e6e6e6" stroke-width="1"/>
<line x1="884.3" y1="359" x2="884.3" y2="580.7" stroke="#e6e6e6" stroke-width="1"/>
<path d="M808.7,540.5 V545.2 M808.7,551.1 V557.3 M806.2,540.5 h5 M806.2,557.3 h5" stroke="#c8c8c8" stroke-width="0.9" fill="none"/>
<rect x="803.0" y="545.2" width="11.4" height="5.9" fill="#a9c9ea"/>
<line x1="803.0" y1="548.2" x2="814.4" y2="548.2" stroke="#fff" stroke-width="0.9" opacity="0.8"/>
<rect x="807.4" y="546.9" width="2.6" height="2.6" fill="#fff"/>
<path d="M830.3,493.8 V514.8 M830.3,531.6 V545.8 M827.8,493.8 h5 M827.8,545.8 h5" stroke="#c8c8c8" stroke-width="0.9" fill="none"/>
<rect x="824.6" y="514.8" width="11.4" height="16.8" fill="#1462ab"/>
<line x1="824.6" y1="524.5" x2="836.0" y2="524.5" stroke="#fff" stroke-width="0.9" opacity="0.8"/>
<rect x="829.0" y="521.5" width="2.6" height="2.6" fill="#fff"/>
<path d="M851.9,470.2 V480.8 M851.9,513.6 V529.6 M849.4,470.2 h5 M849.4,529.6 h5" stroke="#c8c8c8" stroke-width="0.9" fill="none"/>
<rect x="846.2" y="480.8" width="11.4" height="32.8" fill="#b8dc90"/>
<line x1="846.2" y1="506.8" x2="857.6" y2="506.8" stroke="#fff" stroke-width="0.9" opacity="0.8"/>
<rect x="850.6" y="494.6" width="2.6" height="2.6" fill="#fff"/>
<path d="M873.5,439.7 V448.6 M873.5,467.2 V475.2 M871.0,439.7 h5 M871.0,475.2 h5" stroke="#c8c8c8" stroke-width="0.9" fill="none"/>
<rect x="867.8" y="448.6" width="11.4" height="18.6" fill="#3f9030"/>
<line x1="867.8" y1="461.0" x2="879.2" y2="461.0" stroke="#fff" stroke-width="0.9" opacity="0.8"/>
<rect x="872.2" y="455.9" width="2.6" height="2.6" fill="#fff"/>
<path d="M895.1,381.2 V385.0 M895.1,399.8 V419.9 M892.6,381.2 h5 M892.6,419.9 h5" stroke="#c8c8c8" stroke-width="0.9" fill="none"/>
<rect x="889.4" y="385.0" width="11.4" height="14.8" fill="#f3a3a3"/>
<line x1="889.4" y1="394.5" x2="900.8" y2="394.5" stroke="#fff" stroke-width="0.9" opacity="0.8"/>
<rect x="893.8" y="391.7" width="2.6" height="2.6" fill="#fff"/>
<rect x="797.9" y="359" width="108.0" height="221.7" fill="none" stroke="#333" stroke-width="1.6"/>
<line x1="911.6" y1="565.9" x2="1020.6" y2="565.9" stroke="#e8e8e8" stroke-width="1"/>
<line x1="911.6" y1="551.1" x2="1020.6" y2="551.1" stroke="#cacaca" stroke-width="1"/>
<line x1="911.6" y1="536.4" x2="1020.6" y2="536.4" stroke="#e8e8e8" stroke-width="1"/>
<line x1="911.6" y1="521.6" x2="1020.6" y2="521.6" stroke="#cacaca" stroke-width="1"/>
<line x1="911.6" y1="506.8" x2="1020.6" y2="506.8" stroke="#e8e8e8" stroke-width="1"/>
<line x1="911.6" y1="492.0" x2="1020.6" y2="492.0" stroke="#cacaca" stroke-width="1"/>
<line x1="911.6" y1="477.2" x2="1020.6" y2="477.2" stroke="#e8e8e8" stroke-width="1"/>
<line x1="911.6" y1="462.5" x2="1020.6" y2="462.5" stroke="#cacaca" stroke-width="1"/>
<line x1="911.6" y1="447.7" x2="1020.6" y2="447.7" stroke="#e8e8e8" stroke-width="1"/>
<line x1="911.6" y1="432.9" x2="1020.6" y2="432.9" stroke="#cacaca" stroke-width="1"/>
<line x1="911.6" y1="418.1" x2="1020.6" y2="418.1" stroke="#e8e8e8" stroke-width="1"/>
<line x1="911.6" y1="403.4" x2="1020.6" y2="403.4" stroke="#cacaca" stroke-width="1"/>
<line x1="911.6" y1="388.6" x2="1020.6" y2="388.6" stroke="#e8e8e8" stroke-width="1"/>
<line x1="911.6" y1="373.8" x2="1020.6" y2="373.8" stroke="#cacaca" stroke-width="1"/>
<line x1="933.4" y1="359" x2="933.4" y2="580.7" stroke="#e6e6e6" stroke-width="1"/>
<line x1="955.2" y1="359" x2="955.2" y2="580.7" stroke="#e6e6e6" stroke-width="1"/>
<line x1="977.0" y1="359" x2="977.0" y2="580.7" stroke="#e6e6e6" stroke-width="1"/>
<line x1="998.8" y1="359" x2="998.8" y2="580.7" stroke="#e6e6e6" stroke-width="1"/>
<path d="M922.5,540.8 V546.7 M922.5,554.7 V557.9 M920.0,540.8 h5 M920.0,557.9 h5" stroke="#c8c8c8" stroke-width="0.9" fill="none"/>
<rect x="916.8" y="546.7" width="11.4" height="8.0" fill="#a9c9ea"/>
<line x1="916.8" y1="551.1" x2="928.2" y2="551.1" stroke="#fff" stroke-width="0.9" opacity="0.8"/>
<rect x="921.2" y="549.8" width="2.6" height="2.6" fill="#fff"/>
<path d="M944.3,498.5 V504.1 M944.3,527.8 V540.8 M941.8,498.5 h5 M941.8,540.8 h5" stroke="#c8c8c8" stroke-width="0.9" fill="none"/>
<rect x="938.6" y="504.1" width="11.4" height="23.6" fill="#1462ab"/>
<line x1="938.6" y1="511.2" x2="950.0" y2="511.2" stroke="#fff" stroke-width="0.9" opacity="0.8"/>
<rect x="943.0" y="513.2" width="2.6" height="2.6" fill="#fff"/>
<path d="M966.1,404.8 V502.7 M966.1,521.3 V531.0 M963.6,404.8 h5 M963.6,531.0 h5" stroke="#c8c8c8" stroke-width="0.9" fill="none"/>
<rect x="960.4" y="502.7" width="11.4" height="18.6" fill="#b8dc90"/>
<line x1="960.4" y1="515.7" x2="971.8" y2="515.7" stroke="#fff" stroke-width="0.9" opacity="0.8"/>
<rect x="964.8" y="507.0" width="2.6" height="2.6" fill="#fff"/>
<path d="M987.9,435.6 V446.2 M987.9,468.7 V488.5 M985.4,435.6 h5 M985.4,488.5 h5" stroke="#c8c8c8" stroke-width="0.9" fill="none"/>
<rect x="982.2" y="446.2" width="11.4" height="22.5" fill="#3f9030"/>
<line x1="982.2" y1="463.9" x2="993.6" y2="463.9" stroke="#fff" stroke-width="0.9" opacity="0.8"/>
<rect x="986.6" y="457.9" width="2.6" height="2.6" fill="#fff"/>
<path d="M1009.7,384.1 V390.4 M1009.7,411.9 V430.5 M1007.2,384.1 h5 M1007.2,430.5 h5" stroke="#c8c8c8" stroke-width="0.9" fill="none"/>
<rect x="1004.0" y="390.4" width="11.4" height="21.6" fill="#f3a3a3"/>
<line x1="1004.0" y1="400.4" x2="1015.4" y2="400.4" stroke="#fff" stroke-width="0.9" opacity="0.8"/>
<rect x="1008.4" y="399.7" width="2.6" height="2.6" fill="#fff"/>
<rect x="911.6" y="359" width="109.0" height="221.7" fill="none" stroke="#333" stroke-width="1.6"/>
<line x1="569" y1="580.7" x2="573" y2="580.7" stroke="#333" stroke-width="1.2"/>
<text x="564.3" y="584.8000000000001" font-family="Liberation Sans, sans-serif" font-size="11.6" font-weight="bold" fill="#1a1a1a" stroke="#1a1a1a" stroke-width="0.35" text-anchor="end" >30</text>
<line x1="569" y1="551.1" x2="573" y2="551.1" stroke="#333" stroke-width="1.2"/>
<text x="564.3" y="555.2428571428572" font-family="Liberation Sans, sans-serif" font-size="11.6" font-weight="bold" fill="#1a1a1a" stroke="#1a1a1a" stroke-width="0.35" text-anchor="end" >40</text>
<line x1="569" y1="521.6" x2="573" y2="521.6" stroke="#333" stroke-width="1.2"/>
<text x="564.3" y="525.6857142857143" font-family="Liberation Sans, sans-serif" font-size="11.6" font-weight="bold" fill="#1a1a1a" stroke="#1a1a1a" stroke-width="0.35" text-anchor="end" >50</text>
<line x1="569" y1="492.0" x2="573" y2="492.0" stroke="#333" stroke-width="1.2"/>
<text x="564.3" y="496.1285714285715" font-family="Liberation Sans, sans-serif" font-size="11.6" font-weight="bold" fill="#1a1a1a" stroke="#1a1a1a" stroke-width="0.35" text-anchor="end" >60</text>
<line x1="569" y1="462.5" x2="573" y2="462.5" stroke="#333" stroke-width="1.2"/>
<text x="564.3" y="466.5714285714286" font-family="Liberation Sans, sans-serif" font-size="11.6" font-weight="bold" fill="#1a1a1a" stroke="#1a1a1a" stroke-width="0.35" text-anchor="end" >70</text>
<line x1="569" y1="432.9" x2="573" y2="432.9" stroke="#333" stroke-width="1.2"/>
<text x="564.3" y="437.01428571428573" font-family="Liberation Sans, sans-serif" font-size="11.6" font-weight="bold" fill="#1a1a1a" stroke="#1a1a1a" stroke-width="0.35" text-anchor="end" >80</text>
<line x1="569" y1="403.4" x2="573" y2="403.4" stroke="#333" stroke-width="1.2"/>
<text x="564.3" y="407.4571428571429" font-family="Liberation Sans, sans-serif" font-size="11.6" font-weight="bold" fill="#1a1a1a" stroke="#1a1a1a" stroke-width="0.35" text-anchor="end" >90</text>
<line x1="569" y1="373.8" x2="573" y2="373.8" stroke="#333" stroke-width="1.2"/>
<text x="564.3" y="377.90000000000003" font-family="Liberation Sans, sans-serif" font-size="11.6" font-weight="bold" fill="#1a1a1a" stroke="#1a1a1a" stroke-width="0.35" text-anchor="end" >100</text>
<line x1="569" y1="565.9" x2="571.5" y2="565.9" stroke="#333" stroke-width="1"/>
<line x1="569" y1="536.4" x2="571.5" y2="536.4" stroke="#333" stroke-width="1"/>
<line x1="569" y1="506.8" x2="571.5" y2="506.8" stroke="#333" stroke-width="1"/>
<line x1="569" y1="477.2" x2="571.5" y2="477.2" stroke="#333" stroke-width="1"/>
<line x1="569" y1="447.7" x2="571.5" y2="447.7" stroke="#333" stroke-width="1"/>
<line x1="569" y1="418.1" x2="571.5" y2="418.1" stroke="#333" stroke-width="1"/>
<line x1="569" y1="388.6" x2="571.5" y2="388.6" stroke="#333" stroke-width="1"/>
<text transform="translate(537.3,519.5) rotate(-90)" font-family="Liberation Sans, sans-serif" font-size="16.3" font-weight="bold" fill="#1a1a1a" stroke="#1a1a1a" stroke-width="0.35" textLength="96.5" lengthAdjust="spacingAndGlyphs">Removal (%)</text>
<text x="622.0999999999999" y="592" font-family="Liberation Sans, sans-serif" font-size="11" font-weight="bold" fill="#1a1a1a" stroke="#1a1a1a" stroke-width="0.35" text-anchor="middle" >MOB inoculated</text>
<text x="622.0999999999999" y="604.6" font-family="Liberation Sans, sans-serif" font-size="11" font-weight="bold" fill="#1a1a1a" stroke="#1a1a1a" stroke-width="0.35" text-anchor="middle" >(algal water)</text>
<text x="736.35" y="592" font-family="Liberation Sans, sans-serif" font-size="11" font-weight="bold" fill="#1a1a1a" stroke="#1a1a1a" stroke-width="0.35" text-anchor="middle" >MOB inoculated</text>
<text x="736.35" y="604.6" font-family="Liberation Sans, sans-serif" font-size="11" font-weight="bold" fill="#1a1a1a" stroke="#1a1a1a" stroke-width="0.35" text-anchor="middle" >(without algae)</text>
<text x="850.4" y="592" font-family="Liberation Sans, sans-serif" font-size="11" font-weight="bold" fill="#1a1a1a" stroke="#1a1a1a" stroke-width="0.35" text-anchor="middle" >Non-MOB inoculated</text>
<text x="850.4" y="604.6" font-family="Liberation Sans, sans-serif" font-size="11" font-weight="bold" fill="#1a1a1a" stroke="#1a1a1a" stroke-width="0.35" text-anchor="middle" >(algal water)</text>
<text x="964.6" y="592" font-family="Liberation Sans, sans-serif" font-size="11" font-weight="bold" fill="#1a1a1a" stroke="#1a1a1a" stroke-width="0.35" text-anchor="middle" >Non-MOB inoculated</text>
<text x="964.6" y="604.6" font-family="Liberation Sans, sans-serif" font-size="11" font-weight="bold" fill="#1a1a1a" stroke="#1a1a1a" stroke-width="0.35" text-anchor="middle" >(without algae)</text>
</svg></body></html>
